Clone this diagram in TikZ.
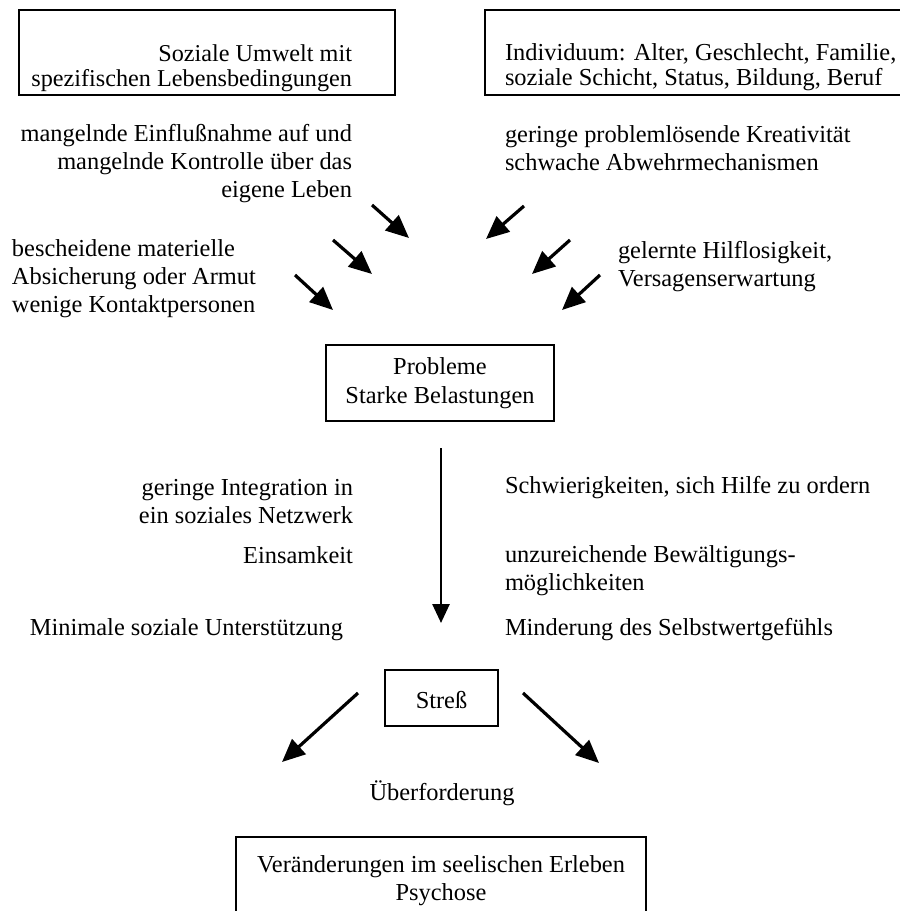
\documentclass[tikz,border=0pt]{standalone}
\usepackage{fontspec}
\setmainfont{Liberation Serif}
\usetikzlibrary{arrows.meta}
\begin{document}
\begin{tikzpicture}[x=1pt,y=-1pt,
  every node/.style={inner sep=0pt, outer sep=0pt},
  lbl/.style={font=\fontsize{24.4}{28}\selectfont},
  frame/.style={draw, line width=1.3pt},
  arr/.style={line width=3.2pt, -{Triangle[length=23pt,width=20pt]}},
  varr/.style={line width=2.6pt, -{Triangle[length=19pt,width=17pt]}}]
\clip (0,0) rectangle (900,911);
\fill[white] (0,0) rectangle (900,911);

% top boxes
\node[frame, minimum width=376pt, minimum height=85pt] (envbox) at (207,52.5) {};
\node[font=\fontsize{24.2}{23}\selectfont, align=right, anchor=east] (envtext) at (352,69)
  {\strut Soziale Umwelt mit\\\strut spezifischen Lebensbedingungen};
\node[frame, minimum width=430pt, minimum height=85pt] (indbox) at (700,52.5) {};
\node[font=\fontsize{24.4}{25}\selectfont, align=left, anchor=west] (indtext) at (505,67.5)
  {\strut Individuum: Alter, Geschlecht, Familie,\\\strut soziale Schicht, Status, Bildung, Beruf};

% upper labels
\node[lbl, align=right, anchor=east] (l1) at (352,163.5)
  {\strut mangelnde Einflußnahme auf und\\\strut mangelnde Kontrolle über das\\\strut eigene Leben};
\node[lbl, align=left, anchor=west] (l2) at (12,278.5)
  {\strut bescheidene materielle\\\strut Absicherung oder Armut\\\strut wenige Kontaktpersonen};
\node[lbl, align=left, anchor=west] (r1) at (505,151)
  {\strut geringe problemlösende Kreativität\\\strut schwache Abwehrmechanismen};
\node[lbl, align=left, anchor=west] (r2) at (618,266.5)
  {\strut gelernte Hilflosigkeit,\\\strut Versagenserwartung};

% converging arrows
\coordinate (a1s) at (372,205); \coordinate (a1e) at (409,238);
\coordinate (a2s) at (333,240); \coordinate (a2e) at (372,274);
\coordinate (a3s) at (295,275); \coordinate (a3e) at (333,310);
\coordinate (b1s) at (524,206); \coordinate (b1e) at (486,239);
\coordinate (b2s) at (570,240); \coordinate (b2e) at (532,274);
\coordinate (b3s) at (600,275); \coordinate (b3e) at (562,310);
\draw[arr] (a1s) -- (a1e);
\draw[arr] (a2s) -- (a2e);
\draw[arr] (a3s) -- (a3e);
\draw[arr] (b1s) -- (b1e);
\draw[arr] (b2s) -- (b2e);
\draw[arr] (b3s) -- (b3e);

% Probleme
\node[frame, font=\fontsize{24.4}{29}\selectfont, align=center,
  minimum width=228pt, minimum height=76pt] (prob) at (440,383)
  {\strut Probleme\\\strut Starke Belastungen};

% vertical arrow
\coordinate (vs) at (441,448);
\coordinate (ve) at (441,623);
\draw[varr] (vs) -- (ve);

% middle labels
\node[lbl, align=right, anchor=east] (m1) at (353,504)
  {\strut geringe Integration in\\\strut ein soziales Netzwerk};
\node[lbl, align=right, anchor=east] (m2) at (353,558) {\strut Einsamkeit};
\node[lbl, align=right, anchor=east] (m3) at (343,630) {\strut Minimale soziale Unterstützung};
\node[lbl, align=left, anchor=west] (n1) at (505,488) {\strut Schwierigkeiten, sich Hilfe zu ordern};
\node[lbl, align=left, anchor=west] (n2) at (505,570.5)
  {\strut unzureichende Bewältigungs-\\\strut möglichkeiten};
\node[lbl, align=left, anchor=west] (n3) at (505,630) {\strut Minderung des Selbstwertgefühls};

% Stress
\node[frame, font=\fontsize{24.4}{28}\selectfont, text height=21pt, text depth=0pt,
  minimum width=113pt, minimum height=56pt] (stress) at (441.5,698) {Streß};
\coordinate (sls) at (358,693); \coordinate (sle) at (282,762);
\coordinate (srs) at (523,693); \coordinate (sre) at (599,763);
\draw[arr] (sls) -- (sle);
\draw[arr] (srs) -- (sre);

\node[lbl] (ueber) at (442,795) {\strut Überforderung};

% bottom box
\node[frame, font=\fontsize{24.4}{28}\selectfont, align=center,
  minimum width=410pt, minimum height=88pt] (psy) at (441,881)
  {\strut Veränderungen im seelischen Erleben\\\strut Psychose};
\end{tikzpicture}
\end{document}
